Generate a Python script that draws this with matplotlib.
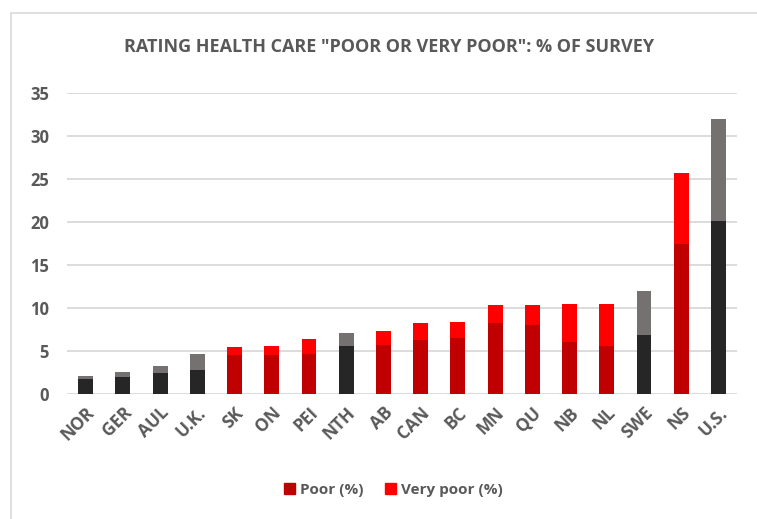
import matplotlib.pyplot as plt
import numpy as np
from matplotlib.patches import Rectangle, Patch

regions = ["NOR", "GER", "AUL", "U.K.", "SK", "ON", "PEI", "NTH", "AB", "CAN",
           "BC", "MN", "QU", "NB", "NL", "SWE", "NS", "U.S."]
poor = [1.8, 2.0, 2.4, 2.8, 4.5, 4.5, 4.7, 5.6, 5.7, 6.3,
        6.5, 8.2, 8.0, 6.1, 5.6, 6.9, 17.5, 20.1]
very_poor = [0.3, 0.6, 0.9, 1.9, 1.0, 1.1, 1.7, 1.5, 1.6, 1.9,
             1.9, 2.1, 2.4, 4.4, 4.9, 5.1, 8.2, 11.9]
canadian = [False, False, False, False, True, True, True, False, True, True,
            True, True, True, True, True, False, True, False]

RED_DARK = "#C00000"
RED = "#FF0000"
GREY_DARK = "#262626"
GREY = "#767171"
TEXT = "#595959"

plt.rcParams["font.family"] = ["Open Sans", "DejaVu Sans"]

fig = plt.figure(figsize=(7.57, 5.19), dpi=100)
# chart-area frame (extends past the right and bottom edge)
fig.patches.append(Rectangle((11 / 757, -0.1), 1.2, 1 - 13 / 519 + 0.1,
                             transform=fig.transFigure, fill=False,
                             edgecolor="#D9D9D9", linewidth=1.2))

ax = fig.add_axes([67 / 757, 1 - 394 / 519, 670 / 757, 301 / 519])
x = np.arange(len(regions))
c1 = [RED_DARK if c else GREY_DARK for c in canadian]
c2 = [RED if c else GREY for c in canadian]
ax.bar(x, poor, width=0.4, color=c1, zorder=3)
ax.bar(x, very_poor, width=0.4, bottom=poor, color=c2, zorder=3)

ax.set_xlim(-0.5, len(regions) - 0.5)
ax.set_ylim(0, 35)
ax.set_yticks(np.arange(0, 36, 5))
ax.grid(axis="y", color="#D9D9D9", linewidth=1.3, zorder=0)
for s in ax.spines.values():
    s.set_visible(False)
ax.tick_params(length=0)
ax.tick_params(axis="y", pad=13, labelsize=12, labelcolor=TEXT)
ax.tick_params(axis="x", pad=7, labelsize=12.5, labelcolor=TEXT)
for lab in ax.get_yticklabels():
    lab.set_fontweight("bold")
ax.set_xticks(x)
ax.set_xticklabels(regions, rotation=45, ha="right", rotation_mode="anchor",
                   fontweight="bold")

fig.text(389 / 757, 1 - 47 / 519, 'RATING HEALTH CARE "POOR OR VERY POOR": % OF SURVEY',
         ha="center", va="center", fontsize=13, fontweight="bold", color=TEXT)

handles = [Patch(color=RED_DARK, label="Poor (%)"), Patch(color=RED, label="Very poor (%)")]
fig.legend(handles=handles, loc="center", bbox_to_anchor=(393 / 757, 1 - 490 / 519),
           ncol=2, frameon=False, handlelength=0.75, handleheight=0.75,
           handletextpad=0.3, columnspacing=1.4,
           prop={"weight": "bold", "size": 11}, labelcolor=TEXT)

fig.savefig("out.png", dpi=100)
